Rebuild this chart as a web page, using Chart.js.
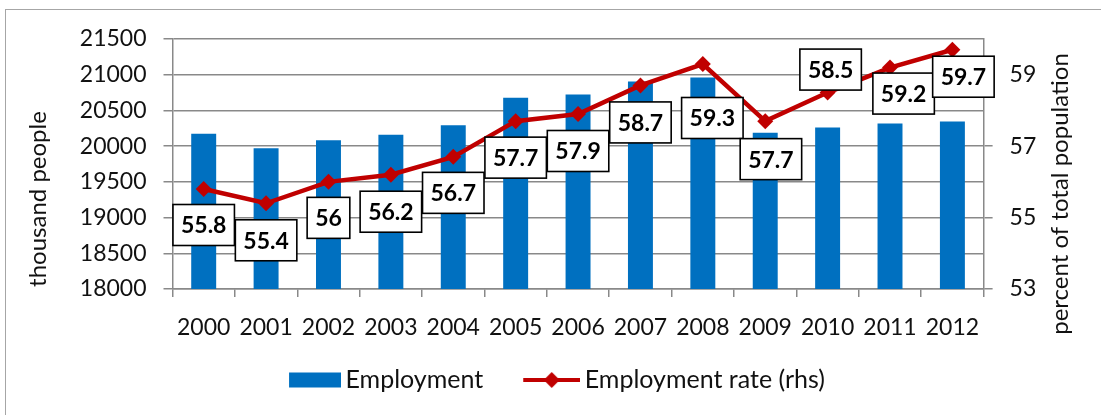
<!DOCTYPE html>
<html><head><meta charset="utf-8">
<script src="https://cdn.jsdelivr.net/npm/chart.js@4/dist/chart.umd.min.js"></script>
<style>
html,body{margin:0;padding:0;background:#fff;overflow:hidden}
#wrap{position:relative;width:1101px;height:415px}
#frame{position:absolute;left:5px;top:9px;width:1110px;height:420px;border:1.5px solid #a6a6a6;pointer-events:none;box-sizing:border-box}
canvas{display:block}
</style></head><body>
<div id="wrap"><canvas id="c" width="1101" height="415"></canvas><div id="frame"></div></div>
<script>
const years = ['2000','2001','2002','2003','2004','2005','2006','2007','2008','2009','2010','2011','2012'];
const employment = [20172,19972,20084,20158,20294,20676,20724,20906,20962,20186,20262,20318,20346];
const employmentRate = [55.8,55.4,56,56.2,56.7,57.7,57.9,58.7,59.3,57.7,58.5,59.2,59.7];
const leftTicks = [18000,18500,19000,19500,20000,20500,21000,21500];
const rightTicks = [53,55,57,59];
const seriesNames = ['Employment','Employment rate (rhs)'];
const axisTitles = ['thousand people','percent of total population'];

// label placement (style only)
const labelDx = [0,0,0,0,0,0,0,0,9.5,5.7,3,13.6,11];
const labelDy = [36,37,36,37,36,36.5,37,37,54,38,-23,26,27];

const BLUE = '#0070C0', RED = '#C00000', GRID = '#898989', TXT = '#111';
const FONT = 'Lato';

function legendIcon(kind){
  const c = document.createElement('canvas');
  c.width = 73; c.height = 18;
  const g = c.getContext('2d');
  if (kind === 'bar') {
    g.fillStyle = BLUE; g.fillRect(21, 1.5, 52, 15);
  } else {
    g.strokeStyle = RED; g.lineWidth = 4;
    g.beginPath(); g.moveTo(16, 9); g.lineTo(73, 9); g.stroke();
    g.fillStyle = RED; g.beginPath();
    g.moveTo(44.5, 1); g.lineTo(52.5, 9); g.lineTo(44.5, 17); g.lineTo(36.5, 9); g.closePath(); g.fill();
  }
  return c;
}
const icons = [legendIcon('bar'), legendIcon('line')];

const labelPlugin = {
  id: 'labels',
  afterDatasetsDraw(chart) {
    const ctx = chart.ctx;
    const meta = chart.getDatasetMeta(1);
    ctx.save();
    ctx.font = 'bold 23px ' + FONT;
    ctx.textAlign = 'center'; ctx.textBaseline = 'middle';
    meta.data.forEach((pt, i) => {
      const txt = String(employmentRate[i]);
      const w = ctx.measureText(txt).width + 16, h = 41;
      const cx = pt.x + labelDx[i], cy = pt.y + labelDy[i];
      ctx.fillStyle = '#fff';
      ctx.fillRect(cx - w/2, cy - h/2, w, h);
      ctx.strokeStyle = '#000'; ctx.lineWidth = 1.6;
      ctx.strokeRect(cx - w/2, cy - h/2, w, h);
      ctx.fillStyle = '#000';
      ctx.fillText(txt, cx, cy + 1);
    });
    ctx.restore();
  },
  afterDraw(chart) {
    const ctx = chart.ctx;
    const draw = (t, x, y) => {
      ctx.save();
      ctx.font = '24px ' + FONT; ctx.fillStyle = TXT;
      ctx.textAlign = 'center'; ctx.textBaseline = 'middle';
      ctx.translate(x, y); ctx.rotate(-Math.PI/2);
      ctx.fillText(t, 0, 0);
      ctx.restore();
    };
    draw(axisTitles[0], 38, 199);
    draw(axisTitles[1], 1060, 194);
  }
};

new Chart(document.getElementById('c'), {
  type: 'bar',
  data: {
    labels: years,
    datasets: [
      { type: 'bar', label: seriesNames[0], data: employment, yAxisID: 'y', order: 1,
        backgroundColor: BLUE, barPercentage: 0.4, categoryPercentage: 1 },
      { type: 'line', label: seriesNames[1], data: employmentRate, yAxisID: 'y1', order: 0,
        borderColor: RED, borderWidth: 4.5, tension: 0, pointStyle: 'rectRot', pointRadius: 8,
        pointBackgroundColor: RED, pointBorderColor: RED, pointBorderWidth: 0 }
    ]
  },
  options: {
    responsive: false, animation: false, devicePixelRatio: 1,
    layout: { padding: { top: 39, bottom: 12.5, left: 0, right: 0 } },
    plugins: {
      tooltip: { enabled: false },
      legend: {
        position: 'bottom',
        labels: {
          font: { family: FONT, size: 25 }, color: TXT, padding: 32,
          usePointStyle: true, pointStyleWidth: 57,
          sort: (a, b) => a.datasetIndex - b.datasetIndex,
          generateLabels(chart) {
            const items = Chart.defaults.plugins.legend.labels.generateLabels(chart);
            items.forEach(it => { it.pointStyle = icons[it.datasetIndex]; });
            return items;
          }
        }
      }
    },
    scales: {
      x: {
        offset: true,
        grid: { display: true, drawOnChartArea: false, drawTicks: true, tickLength: 8, color: GRID, lineWidth: 1.5, offset: true },
        border: { color: GRID, width: 1.5 },
        ticks: { font: { family: FONT, size: 23 }, color: TXT, padding: 17, maxRotation: 0, autoSkip: false },
        afterFit: s => { s.height = 46.5; }
      },
      y: {
        position: 'left', min: 18000, max: 21500,
        afterBuildTicks: s => { s.ticks = leftTicks.map(v => ({ value: v })); },
        grid: { color: GRID, lineWidth: 1.5, tickLength: 9 },
        border: { color: GRID, width: 1.5 },
        ticks: { font: { family: FONT, size: 23 }, color: TXT, padding: 17, callback: v => String(v) },
        afterFit: s => { s.width = 172.5; }
      },
      y1: {
        position: 'right', min: 53, max: 60,
        afterBuildTicks: s => { s.ticks = rightTicks.map(v => ({ value: v })); },
        grid: { drawOnChartArea: false, color: GRID, lineWidth: 1.5, tickLength: 9 },
        border: { color: GRID, width: 1.5 },
        ticks: { font: { family: FONT, size: 23 }, color: TXT, padding: 17, callback: v => String(v) },
        afterFit: s => { s.width = 117.4; }
      }
    }
  },
  plugins: [labelPlugin]
});
</script>
</body></html>
